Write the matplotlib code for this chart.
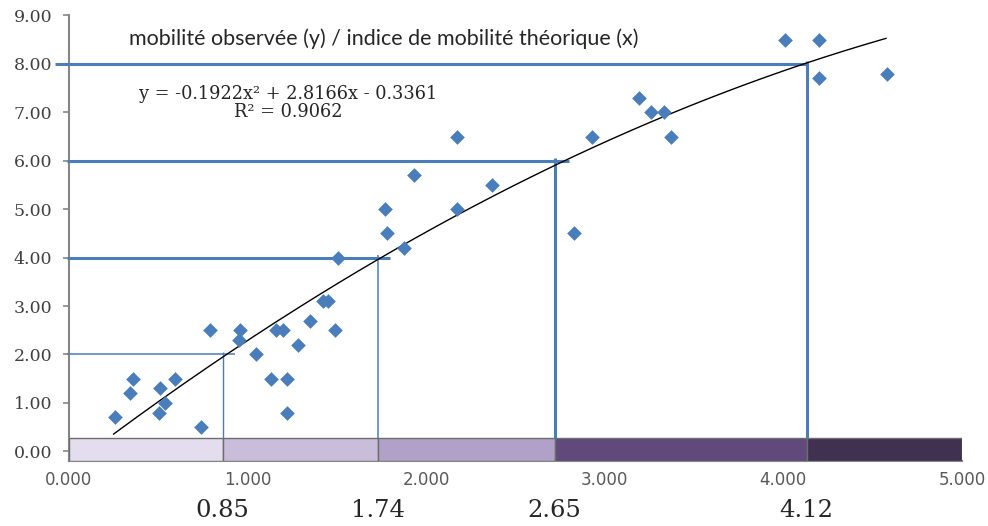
import matplotlib
matplotlib.use("Agg")
import matplotlib.pyplot as plt
import numpy as np

# observed mobility (y) vs theoretical mobility index (x)
x_obs = [0.257, 0.34, 0.36, 0.51, 0.505, 0.54, 0.595, 0.74, 0.79, 0.96, 0.95,
         1.05, 1.13, 1.16, 1.20, 1.22, 1.22, 1.28, 1.35, 1.42, 1.45, 1.49,
         1.507, 1.77, 1.78, 1.875, 1.93, 2.17, 2.17, 2.37,
         2.826, 2.93, 3.19, 3.26, 3.33, 3.37, 4.01, 4.20, 4.20, 4.58]
y_obs = [0.70, 1.20, 1.50, 1.30, 0.79, 0.99, 1.50, 0.50, 2.50, 2.50, 2.30,
         2.00, 1.50, 2.50, 2.50, 1.50, 0.80, 2.20, 2.70, 3.10, 3.10, 2.50,
         4.00, 5.00, 4.50, 4.20, 5.70, 6.50, 5.00, 5.50,
         4.50, 6.50, 7.30, 7.00, 7.00, 6.50, 8.50, 8.50, 7.70, 7.80]

# polynomial trend line
coef = [-0.1922, 2.8166, -0.3361]
r2 = 0.9062
trend_range = [0.25, 4.575]

# reading lines: observed level -> index threshold
levels = [2, 4, 6, 8]
cut_x = [0.86, 1.73, 2.72, 4.13]
cut_labels = ['0.85', '1.74', '2.65', '4.12']
h_end = [0.93, 1.80, 2.80, 4.125]
h_start = [-0.01, -0.01, -0.01, -0.078]
line_w = [1.1, 2.2, 2.2, 2.2]
vline_w = [1.0, 1.1, 2.2, 2.2]

band_edges = [0.0, 0.86, 1.73, 2.72, 4.13, 5.0]
band_colors = ['#e4dded', '#c9bdd9', '#b1a0c7', '#5f4a7b', '#403151']

blue = '#4a7ebb'

fig = plt.figure(figsize=(9.88, 5.26), dpi=100)
ax = fig.add_axes([0.0698, 0.1236, 0.9038, 0.847])
ax.set_xlim(0, 5)
ax.set_ylim(-0.2, 9)

# coloured band along the x axis
for i in range(len(band_colors)):
    ax.bar(band_edges[i], 0.48, width=band_edges[i + 1] - band_edges[i], bottom=-0.2,
           align='edge', color=band_colors[i], edgecolor='#6d6d6d', linewidth=1, zorder=2)

for i in range(len(levels)):
    ax.plot([h_start[i], h_end[i]], [levels[i], levels[i]], color=blue,
            lw=line_w[i], clip_on=False, zorder=3, solid_capstyle='butt')
    ax.plot([cut_x[i], cut_x[i]], [0.28, levels[i] + 0.05], color=blue,
            lw=vline_w[i], zorder=3, solid_capstyle='butt')
    ax.text(cut_x[i], -1.22, cut_labels[i], ha='center', va='center',
            fontsize=17.5, family='DejaVu Serif', color='#262626', clip_on=False)

xt = np.linspace(trend_range[0], trend_range[1], 200)
ax.plot(xt, np.polyval(coef, xt), color='black', lw=1.0, zorder=4)

ax.scatter(x_obs, y_obs, marker='D', s=56, color=blue, linewidths=0, zorder=5)

for s in ['top', 'right']:
    ax.spines[s].set_visible(False)
for s in ['left', 'bottom']:
    ax.spines[s].set_color('#868686')
    ax.spines[s].set_linewidth(1.5)
    ax.spines[s].set_zorder(1)

ax.set_yticks(range(0, 10))
ax.set_yticklabels(['%.2f' % v for v in range(0, 10)], family='DejaVu Serif',
                   fontsize=12.5, color='#404040')
ax.tick_params(axis='y', length=4, width=1.2, color='#868686', pad=8)
ax.set_xticks(range(0, 6))
ax.set_xticklabels(['%.3f' % v for v in range(0, 6)], family='DejaVu Sans',
                   fontsize=12, color='#595959')
ax.tick_params(axis='x', length=0, pad=7)

fig.text(0.388, 0.926, 'mobilité observée (y) / indice de mobilité théorique (x)',
         ha='center', va='center', fontsize=15.5, family='Lato', color='#262626')
fig.text(0.292, 0.804, 'y = -0.1922x² + 2.8166x - 0.3361\nR² = 0.9062',
         ha='center', va='center', fontsize=12.8, family='DejaVu Serif',
         color='#262626', linespacing=1.0)

fig.savefig('out.png', dpi=100)
